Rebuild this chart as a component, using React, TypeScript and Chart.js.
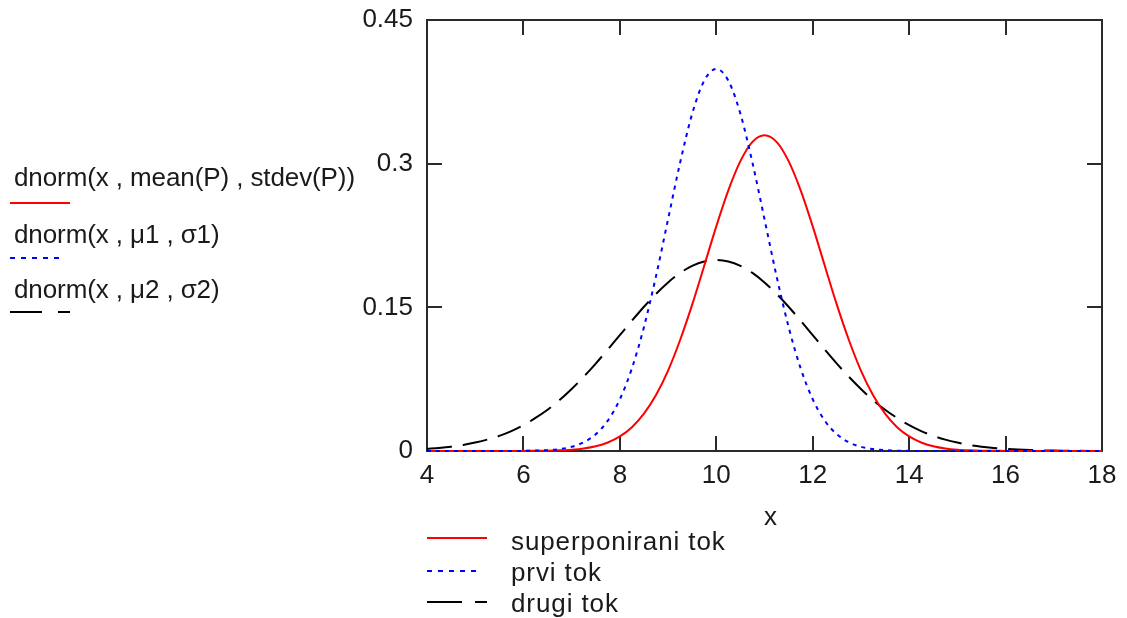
import React, { useEffect, useRef } from "react";
import { Chart, registerables } from "chart.js";

Chart.register(...registerables);

// x grid of the plotted curves
const xValues = [
  4, 4.25, 4.5, 4.75, 5, 5.25, 5.5, 5.75, 6, 6.25, 6.5, 6.75, 7, 7.25, 7.5, 7.75,
  8, 8.25, 8.5, 8.75, 9, 9.25, 9.5, 9.75, 10, 10.25, 10.5, 10.75, 11, 11.25, 11.5, 11.75,
  12, 12.25, 12.5, 12.75, 13, 13.25, 13.5, 13.75, 14, 14.25, 14.5, 14.75, 15, 15.25, 15.5, 15.75,
  16, 16.25, 16.5, 16.75, 17, 17.25, 17.5, 17.75, 18,
];

// superponirani tok (red, solid)
const superponirani = [
  0, 0, 0, 0, 0, 0, 0, 0, 0.0001, 0.0002, 0.0003, 0.0007, 0.0014, 0.0027, 0.005, 0.0089,
  0.0152, 0.0249, 0.039, 0.0584, 0.084, 0.1159, 0.1528, 0.1935, 0.2345, 0.2721, 0.3026, 0.3227, 0.3297, 0.3227, 0.3026, 0.2721,
  0.2345, 0.1935, 0.1528, 0.1159, 0.084, 0.0584, 0.039, 0.0249, 0.0152, 0.0089, 0.005, 0.0027, 0.0014, 0.0007, 0.0003, 0.0002,
  0.0001, 0, 0, 0, 0, 0, 0, 0, 0,
];

// prvi tok (blue, dotted)
const prvi = [
  0, 0, 0, 0, 0, 0, 0, 0, 0.0001, 0.0004, 0.0009, 0.002, 0.0044, 0.0091, 0.0175, 0.0317,
  0.054, 0.0863, 0.1295, 0.1826, 0.242, 0.3011, 0.3521, 0.3867, 0.3989, 0.3867, 0.3521, 0.3011, 0.242, 0.1826, 0.1295, 0.0863,
  0.054, 0.0317, 0.0175, 0.0091, 0.0044, 0.002, 0.0009, 0.0004, 0.0001, 0, 0, 0, 0, 0, 0, 0,
  0, 0, 0, 0, 0, 0, 0, 0, 0,
];

// drugi tok (black, dashed)
const drugi = [
  0.0022, 0.0032, 0.0045, 0.0063, 0.0088, 0.0119, 0.0158, 0.0208, 0.027, 0.0345, 0.0431, 0.0532, 0.0648, 0.0775, 0.0913, 0.106,
  0.121, 0.136, 0.1506, 0.1641, 0.176, 0.1859, 0.1933, 0.1979, 0.1995, 0.1979, 0.1933, 0.1859, 0.176, 0.1641, 0.1506, 0.136,
  0.121, 0.106, 0.0913, 0.0775, 0.0648, 0.0532, 0.0431, 0.0345, 0.027, 0.0208, 0.0158, 0.0119, 0.0088, 0.0063, 0.0045, 0.0032,
  0.0022, 0.0015, 0.001, 0.0007, 0.0004, 0.0003, 0.0002, 0.0001, 0.0001,
];

const xTicks = [4, 6, 8, 10, 12, 14, 16, 18];
const yTicks = [0, 0.15, 0.3, 0.45];
const xAxisTitle = "x";
const seriesLabels = ["superponirani tok", "prvi tok", "drugi tok"];
const exprLabels = ["dnorm(x , mean(P) , stdev(P))", "dnorm(x , \u03bc1 , \u03c31)", "dnorm(x , \u03bc2 , \u03c32)"];

const FONT = "'Liberation Sans', Arial, sans-serif";
const TEXT = "#1a1a1a";
const FS = 26;

function drawSpaced(ctx: CanvasRenderingContext2D, text: string, x: number, y: number, spacing: number) {
  const c: any = ctx;
  if ("letterSpacing" in c) {
    c.letterSpacing = spacing + "px";
    ctx.fillText(text, x, y);
    c.letterSpacing = "0px";
  } else {
    let cx = x;
    for (const ch of text) {
      ctx.fillText(ch, cx, y);
      cx += ctx.measureText(ch).width + spacing;
    }
  }
}

const framePlugin = {
  id: "mcFrame",
  beforeDatasetsDraw(chart: any) {
    const { ctx, chartArea: a, scales } = chart;
    const xs = scales.x;
    const ys = scales.y;
    ctx.save();
    ctx.strokeStyle = "#2a2a2a";
    ctx.lineWidth = 2;
    ctx.strokeRect(a.left, a.top, a.right - a.left, a.bottom - a.top);
    ctx.beginPath();
    const len = 15;
    xTicks.slice(1, -1).forEach((v) => {
      const px = Math.round(xs.getPixelForValue(v));
      ctx.moveTo(px, a.top);
      ctx.lineTo(px, a.top + len);
      ctx.moveTo(px, a.bottom);
      ctx.lineTo(px, a.bottom - len);
    });
    yTicks.slice(1, -1).forEach((v) => {
      const py = Math.round(ys.getPixelForValue(v));
      ctx.moveTo(a.left, py);
      ctx.lineTo(a.left + len, py);
      ctx.moveTo(a.right, py);
      ctx.lineTo(a.right - len, py);
    });
    ctx.stroke();
    ctx.restore();
  },
};

const legendPlugin = {
  id: "mcLegend",
  afterDraw(chart: any) {
    const { ctx } = chart;
    ctx.save();
    ctx.fillStyle = TEXT;
    ctx.font = `${FS}px ${FONT}`;
    ctx.textAlign = "left";
    ctx.textBaseline = "alphabetic";

    // left legend (expressions)
    const leftBase = [186, 243, 298];
    const leftLine = [203, 258, 312];
    exprLabels.forEach((t, i) => drawSpaced(ctx, t, 14, leftBase[i], -0.1));

    ctx.lineWidth = 2;
    ctx.strokeStyle = "#ff0000";
    ctx.setLineDash([]);
    ctx.beginPath();
    ctx.moveTo(10, leftLine[0]);
    ctx.lineTo(70, leftLine[0]);
    ctx.stroke();
    ctx.strokeStyle = "#0000ff";
    ctx.setLineDash([5, 6]);
    ctx.beginPath();
    ctx.moveTo(10, leftLine[1]);
    ctx.lineTo(64, leftLine[1]);
    ctx.stroke();
    ctx.strokeStyle = "#000";
    ctx.setLineDash([32, 16]);
    ctx.beginPath();
    ctx.moveTo(10, leftLine[2]);
    ctx.lineTo(70, leftLine[2]);
    ctx.stroke();

    // bottom legend
    const botBase = [550, 581, 612];
    const botLine = [538, 571, 602];
    seriesLabels.forEach((t, i) => drawSpaced(ctx, t, 511, botBase[i], 0.9));
    ctx.strokeStyle = "#ff0000";
    ctx.setLineDash([]);
    ctx.beginPath();
    ctx.moveTo(427, botLine[0]);
    ctx.lineTo(487, botLine[0]);
    ctx.stroke();
    ctx.strokeStyle = "#0000ff";
    ctx.setLineDash([5, 6]);
    ctx.beginPath();
    ctx.moveTo(427, botLine[1]);
    ctx.lineTo(482, botLine[1]);
    ctx.stroke();
    ctx.strokeStyle = "#000";
    ctx.setLineDash([35, 13]);
    ctx.beginPath();
    ctx.moveTo(427, botLine[2]);
    ctx.lineTo(487, botLine[2]);
    ctx.stroke();

    // axis title
    const a = chart.chartArea;
    ctx.setLineDash([]);
    ctx.textAlign = "center";
    ctx.textBaseline = "alphabetic";
    ctx.fillText(xAxisTitle, (a.left + a.right) / 2 + 6, 525);
    ctx.restore();
  },
};

export default function App() {
  const ref = useRef<HTMLCanvasElement | null>(null);

  useEffect(() => {
    if (!ref.current) return;
    const toPts = (ys: number[]) => xValues.map((x, i) => ({ x, y: ys[i] }));
    const chart = new Chart(ref.current, {
      type: "line",
      data: {
        datasets: [
          {
            label: seriesLabels[0],
            data: toPts(superponirani),
            borderColor: "#ff0000",
            borderWidth: 2,
            pointRadius: 0,
            cubicInterpolationMode: "monotone",
            clip: 4,
            order: 1,
          },
          {
            label: seriesLabels[1],
            data: toPts(prvi),
            borderColor: "#0000ff",
            borderWidth: 2,
            borderDash: [4, 5],
            pointRadius: 0,
            cubicInterpolationMode: "monotone",
            clip: 4,
            order: 0,
          },
          {
            label: seriesLabels[2],
            data: toPts(drugi),
            borderColor: "#000000",
            borderWidth: 2,
            borderDash: [25, 11],
            pointRadius: 0,
            cubicInterpolationMode: "monotone",
            clip: 4,
            order: 2,
          },
        ],
      },
      options: {
        animation: false,
        responsive: false,
        maintainAspectRatio: false,
        layout: { padding: { left: 0, top: 20, right: 25, bottom: 0 } },
        plugins: { legend: { display: false }, tooltip: { enabled: false } },
        scales: {
          x: {
            type: "linear",
            min: 4,
            max: 18,
            grid: { display: false, drawTicks: false },
            border: { display: false },
            afterBuildTicks: (s: any) => {
              s.ticks = xTicks.map((v) => ({ value: v }));
            },
            afterFit: (s: any) => {
              s.height = 167;
              s.paddingLeft = 0;
              s.paddingRight = 0;
            },
            ticks: {
              color: TEXT,
              font: { family: FONT, size: FS },
              padding: 9,
              maxRotation: 0,
              autoSkip: false,
              callback: (v: any) => String(v),
            },
            title: { display: false },
          },
          y: {
            type: "linear",
            min: 0,
            max: 0.45,
            grid: { display: false, drawTicks: false },
            border: { display: false },
            afterBuildTicks: (s: any) => {
              s.ticks = yTicks.map((v) => ({ value: v }));
            },
            afterFit: (s: any) => {
              s.width = 427;
              s.paddingTop = 0;
              s.paddingBottom = 0;
            },
            ticks: {
              color: TEXT,
              font: { family: FONT, size: FS },
              padding: 14,
              autoSkip: false,
              callback: (v: any) => String(Number(Number(v).toFixed(2))),
            },
          },
        },
      },
      plugins: [framePlugin, legendPlugin],
    } as any);
    return () => chart.destroy();
  }, []);

  return (
    <div style={{ position: "fixed", left: 0, top: 0, width: 1127, height: 618, background: "#fff" }}>
      <canvas ref={ref} width={1127} height={618} style={{ width: 1127, height: 618, display: "block" }} />
    </div>
  );
}
